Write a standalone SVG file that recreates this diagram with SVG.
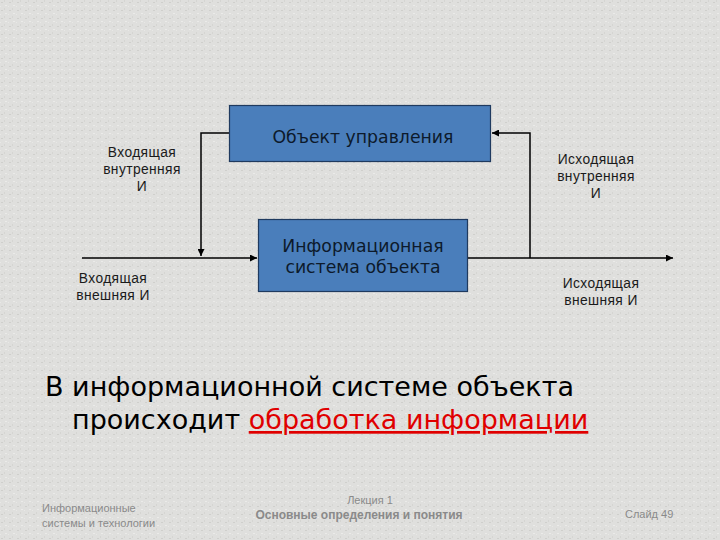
<svg xmlns="http://www.w3.org/2000/svg" width="720" height="540" viewBox="0 0 720 540">
<style>
.box{fill:#4a7ebb;stroke:#1f3a5f;stroke-width:1.2}
.bt{font-family:"DejaVu Sans",sans-serif;font-size:17.3px;fill:#0d1a2b;text-anchor:middle}
.lbl{font-family:"Liberation Sans",sans-serif;font-size:13.8px;fill:#1a1a1a;text-anchor:middle;letter-spacing:0.4px}
.ln{fill:none;stroke:#000;stroke-width:1.5}
.main{font-family:"DejaVu Sans",sans-serif;font-size:27px;fill:#000}
.ft{font-family:"Liberation Sans",sans-serif;font-size:11px;fill:#8a8a8a}
.ftb{font-family:"Liberation Sans",sans-serif;font-size:12px;font-weight:bold;fill:#8a8a8a}
</style>
<defs>
<marker id="ah" viewBox="0 0 10 10" refX="10" refY="5" markerWidth="7" markerHeight="7" markerUnits="userSpaceOnUse" orient="auto">
<path d="M0,0 L10,5 L0,10 z" fill="#000"/>
</marker>
<pattern id="tex" width="8" height="8" patternUnits="userSpaceOnUse">
<rect width="8" height="8" fill="#dfdfdd"/>
<rect x="1" y="2" width="2" height="1" fill="#cfcfcc"/>
<rect x="5" y="5" width="2" height="1" fill="#ebebe9"/>
<rect x="4" y="0" width="1" height="2" fill="#d5d5d2"/>
<rect x="0" y="6" width="1" height="1" fill="#e8e8e6"/>
</pattern>
</defs>
<rect width="720" height="540" fill="url(#tex)"/>

<g id="connectors">
<polyline class="ln" points="230,133 201,133 201,256" marker-end="url(#ah)"/>
<line class="ln" x1="82" y1="258" x2="257" y2="258" marker-end="url(#ah)"/>
<line class="ln" x1="467" y1="258" x2="673" y2="258" marker-end="url(#ah)"/>
<polyline class="ln" points="530,258 530,133 492,133" marker-end="url(#ah)"/>
</g>

<g id="node-object">
<rect class="box" x="229.5" y="105.5" width="261" height="56"/>
<text class="bt" x="363" y="143">Объект управления</text>
</g>

<g id="node-is">
<rect class="box" x="258.5" y="219.5" width="209" height="72"/>
<text class="bt" x="363" y="252">Информационная</text>
<text class="bt" x="363" y="273">система объекта</text>
</g>

<g id="label-in-int">
<text class="lbl" x="142" y="157">Входящая</text>
<text class="lbl" x="142" y="174">внутренняя</text>
<text class="lbl" x="142" y="191">И</text>
</g>
<g id="label-in-ext">
<text class="lbl" x="113" y="283">Входящая</text>
<text class="lbl" x="113" y="300">внешняя И</text>
</g>
<g id="label-out-int">
<text class="lbl" x="596" y="164">Исходящая</text>
<text class="lbl" x="596" y="181">внутренняя</text>
<text class="lbl" x="596" y="198">И</text>
</g>
<g id="label-out-ext">
<text class="lbl" x="601" y="288">Исходящая</text>
<text class="lbl" x="601" y="305">внешняя И</text>
</g>

<g id="caption">
<text class="main" x="45" y="396">В информационной системе объекта</text>
<text class="main" x="72" y="429">происходит <tspan fill="#e00000" text-decoration="underline">обработка информации</tspan></text>
</g>

<g id="footer">
<text class="ft" x="42" y="512">Информационные</text>
<text class="ft" x="42" y="527">системы и технологии</text>
<text class="ft" x="370" y="504" text-anchor="middle">Лекция 1</text>
<text class="ftb" x="359" y="519" text-anchor="middle">Основные определения и понятия</text>
<text class="ft" x="625" y="518">Слайд 49</text>
</g>
</svg>
